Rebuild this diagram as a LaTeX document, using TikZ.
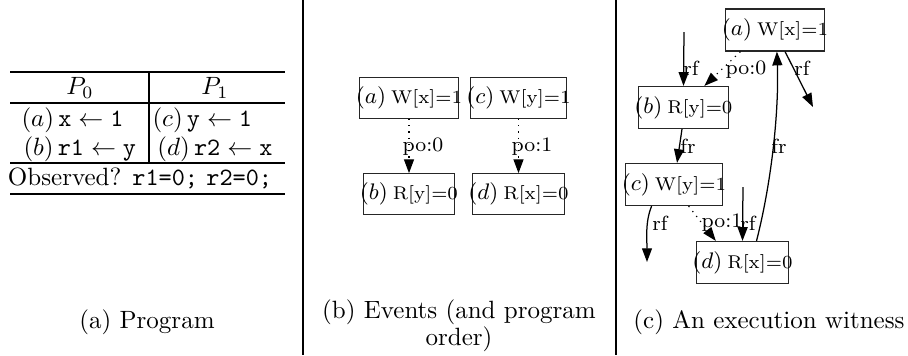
\documentclass[tikz,border=0pt]{standalone}
\usepackage{tikz}
\usepackage{amsmath}
\usetikzlibrary{arrows.meta, positioning, calc}

% event label: tag, then access
\newcommand{\evtext}[2]{{\fontsize{8.7}{10}\selectfont$(#1)$}\hspace{2pt}{\fontsize{7.4}{8}\selectfont #2}}

\begin{document}
\begin{tikzpicture}[x=0.4pt, y=-0.4pt,
    event/.style={draw=black!85, line width=0.5pt, inner xsep=-1.5pt, inner ysep=0pt,
                  minimum height=16.2pt},
    edgelbl/.style={inner sep=0pt, font=\fontsize{8.2}{9}\selectfont},
    rel/.style={line width=0.5pt, -{Triangle[length=5.5pt, width=4pt]}},
    porel/.style={rel, dotted, line width=0.45pt},
    rule/.style={line width=0.8pt},
]
    \useasboundingbox (0,0) rectangle (908,355);

    % Separators
    \foreach \x in {303,616} {
        \draw[line width=1pt] (\x,0) -- (\x,355);
    }

    % (a) Program table
    \foreach \y in {72,103,163,194} {
        \draw[rule] (10,\y) -- (285,\y);
    }
    \draw[rule] (149,72) -- (149,163);
    \node (p0h) at (80,88) {$P_0$};
    \node (p1h) at (215,88) {$P_1$};
    \node[anchor=west, inner sep=0pt] (ia) at (21,120) {$(a)\, \mathtt{x} \leftarrow \mathtt{1}$};
    \node[anchor=west, inner sep=0pt] (ib) at (23,149) {$(b)\, \mathtt{r1} \leftarrow \mathtt{y}$};
    \node[anchor=west, inner sep=0pt] (ic) at (152,120) {$(c)\, \mathtt{y} \leftarrow \mathtt{1}$};
    \node[anchor=west, inner sep=0pt] (id) at (157,149) {$(d)\, \mathtt{r2} \leftarrow \mathtt{x}$};
    \node (obs) at (140,178) {Observed? \texttt{r1=0;} \texttt{r2=0;}};
    \node (capa) at (147,322) {(a) Program};

    % (b) Events and program order
    \node[event] (ea) at (409,98) {\evtext{a}{W[x]=1}};
    \node[event] (ec) at (518.5,98) {\evtext{c}{W[y]=1}};
    \node[event] (eb) at (409,194) {\evtext{b}{R[y]=0}};
    \node[event] (ed) at (518.5,194) {\evtext{d}{R[x]=0}};
    \draw[porel] (ea.south) -- (eb.north);
    \draw[porel] (ec.south) -- (ed.north);
    \node[edgelbl] (lbpo0) at (423,147) {po:0};
    \node[edgelbl] (lbpo1) at (532,147) {po:1};
    \node[align=center, font=\fontsize{10}{10.8}\selectfont] (capb) at (459,326)
        {(b) Events (and program\\order)};

    % (c) Execution witness
    \node[event, minimum height=16.8pt] (wa) at (775,30) {\evtext{a}{W[x]=1}};
    \node[event, minimum height=16.8pt] (wb) at (683.5,107.5) {\evtext{b}{R[y]=0}};
    \node[event, minimum height=16.8pt] (wc) at (674,184.5) {\evtext{c}{W[y]=1}};
    \node[event, minimum height=16.8pt] (wd) at (742.5,262.5) {\evtext{d}{R[x]=0}};
    \coordinate (rfb) at (684,32);
    \coordinate (rfa) at (813,107);
    \coordinate (rfc) at (647,262);
    \coordinate (rfd) at (743,187);

    \draw[rel] (rfb) -- (wb.north);
    \draw[porel] (wa.212) -- (wb.46);
    \draw[rel] (wa.-65) -- (rfa);
    \draw[rel] (wb.-94) -- (wc.82);
    \draw[rel] (wd.57) .. controls (772,180) and (779,110) .. (wa.-85);
    \draw[rel] (wc.224) .. controls (645,222) and (647,240) .. (rfc);
    \draw[porel] (wc.-56) -- (wd.141);
    \draw[rel] (rfd) -- (wd.north);

    \node[edgelbl] (lrfb) at (691,68) {rf};
    \node[edgelbl] (lpo0) at (746,70) {po:0};
    \node[edgelbl] (lrfa) at (802,68) {rf};
    \node[edgelbl] (lfrb) at (688,146) {fr};
    \node[edgelbl] (lfrd) at (779,146) {fr};
    \node[edgelbl] (lrfc) at (660,223) {rf};
    \node[edgelbl] (lpo1) at (722,223) {po:1};
    \node[edgelbl] (lrfd) at (748,223) {rf};
    \node (capc) at (769,322) {(c) An execution witness};
\end{tikzpicture}
\end{document}
